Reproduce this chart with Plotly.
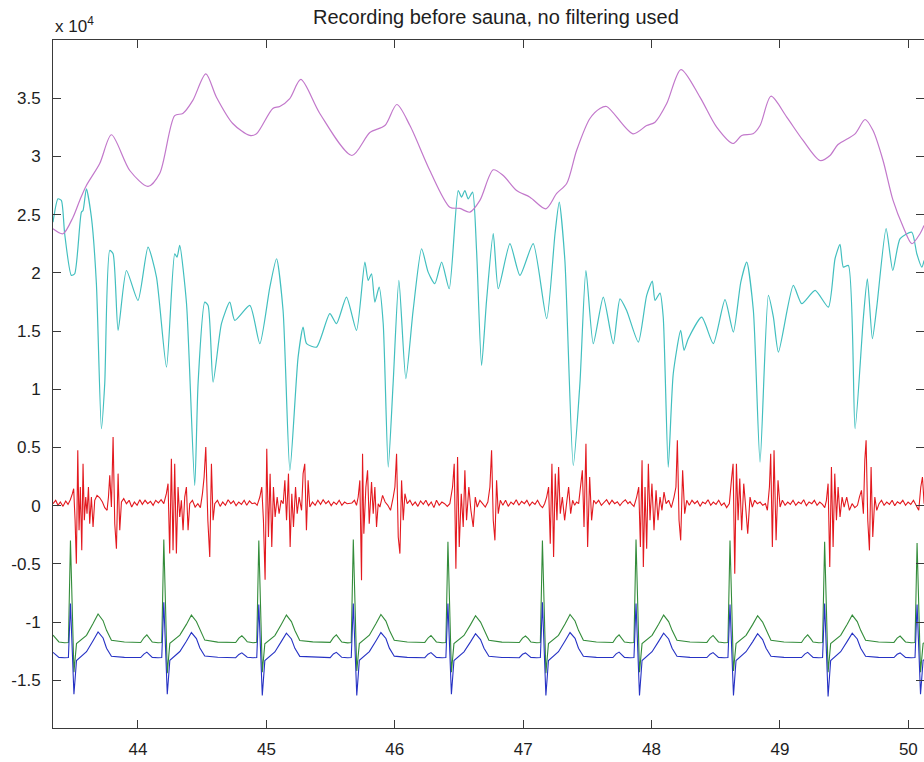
import plotly.graph_objects as go

# Time axis in seconds, amplitudes in units of 1e4 counts.

# Respiration (purple): (time, amplitude)
resp = [
    (43.338, 2.379), (43.416, 2.336), (43.494, 2.478), (43.546, 2.622), (43.598, 2.750),
    (43.702, 2.939), (43.793, 3.186), (43.936, 2.879), (44.078, 2.742), (44.169, 2.853),
    (44.286, 3.351), (44.349, 3.369), (44.427, 3.481), (44.528, 3.709), (44.611, 3.509),
    (44.738, 3.283), (44.870, 3.180), (44.923, 3.194), (45.050, 3.412), (45.104, 3.429),
    (45.182, 3.497), (45.268, 3.661), (45.416, 3.369), (45.666, 3.008), (45.806, 3.205),
    (45.923, 3.265), (46.016, 3.446), (46.118, 3.265), (46.273, 2.879), (46.429, 2.564),
    (46.507, 2.553), (46.585, 2.521), (46.663, 2.622), (46.767, 2.885), (46.845, 2.836),
    (46.949, 2.707), (47.053, 2.650), (47.177, 2.550), (47.261, 2.682), (47.339, 2.767),
    (47.416, 3.051), (47.520, 3.326), (47.598, 3.412), (47.650, 3.429), (47.855, 3.194),
    (47.962, 3.265), (48.027, 3.294), (48.118, 3.454), (48.229, 3.746), (48.377, 3.509),
    (48.507, 3.251), (48.634, 3.111), (48.702, 3.180), (48.790, 3.194), (48.845, 3.265),
    (48.930, 3.517), (49.053, 3.337), (49.180, 3.137), (49.312, 2.965), (49.390, 3.008),
    (49.452, 3.102), (49.585, 3.194), (49.663, 3.317), (49.725, 3.222), (49.803, 2.965),
    (49.881, 2.622), (49.961, 2.392), (50.027, 2.250), (50.091, 2.336), (50.122, 2.407),
]

# Pulse / pressure channel (cyan)
pulse = [
    (43.338, 2.435), (43.377, 2.636), (43.403, 2.622), (43.429, 2.336), (43.481, 1.978),
    (43.507, 1.992), (43.559, 2.521), (43.572, 2.536), (43.598, 2.722), (43.637, 2.478),
    (43.676, 1.906), (43.715, 0.661), (43.741, 1.050), (43.780, 2.192), (43.806, 2.164),
    (43.845, 1.505), (43.910, 2.020), (44.000, 1.763), (44.078, 2.221), (44.144, 1.963),
    (44.222, 1.190), (44.286, 2.164), (44.304, 2.135), (44.325, 2.235), (44.378, 1.735),
    (44.442, 0.174), (44.468, 1.050), (44.520, 1.748), (44.546, 1.720), (44.585, 1.061),
    (44.650, 1.563), (44.715, 1.748), (44.754, 1.591), (44.871, 1.720), (44.949, 1.391),
    (45.027, 1.877), (45.079, 2.121), (45.130, 1.677), (45.183, 0.303), (45.247, 1.276),
    (45.286, 1.534), (45.313, 1.391), (45.391, 1.362), (45.494, 1.649), (45.546, 1.563),
    (45.624, 1.791), (45.702, 1.505), (45.767, 2.092), (45.793, 1.935), (45.819, 1.992),
    (45.845, 1.748), (45.878, 1.877), (45.910, 1.563), (45.949, 0.331), (45.987, 1.048),
    (46.032, 1.935), (46.086, 1.091), (46.143, 1.677), (46.209, 2.207), (46.260, 2.006),
    (46.312, 1.906), (46.365, 2.092), (46.424, 1.863), (46.494, 2.707), (46.520, 2.650),
    (46.546, 2.707), (46.572, 2.636), (46.606, 2.693), (46.637, 2.192), (46.676, 1.205),
    (46.715, 1.763), (46.767, 2.336), (46.806, 1.863), (46.897, 2.250), (46.975, 1.978),
    (47.078, 2.250), (47.183, 1.606), (47.248, 2.336), (47.281, 2.607), (47.325, 2.106),
    (47.390, 0.346), (47.442, 1.048), (47.489, 2.020), (47.546, 1.391), (47.624, 1.791),
    (47.702, 1.391), (47.754, 1.777), (47.806, 1.677), (47.897, 1.405), (47.962, 1.806),
    (48.006, 1.929), (48.027, 1.763), (48.066, 1.826), (48.091, 1.619), (48.130, 0.331),
    (48.169, 1.133), (48.227, 1.505), (48.253, 1.334), (48.286, 1.434), (48.391, 1.619),
    (48.481, 1.391), (48.572, 1.769), (48.637, 1.491), (48.695, 1.920), (48.741, 2.092),
    (48.793, 1.677), (48.845, 0.374), (48.910, 1.806), (48.949, 1.619), (48.988, 1.319),
    (49.104, 1.892), (49.170, 1.735), (49.274, 1.849), (49.377, 1.705), (49.429, 2.121),
    (49.468, 2.244), (49.494, 2.049), (49.533, 2.063), (49.585, 0.661), (49.650, 1.619),
    (49.681, 1.949), (49.720, 1.434), (49.754, 1.705), (49.827, 2.379), (49.879, 2.020),
    (49.936, 2.293), (50.027, 2.349), (50.066, 2.164), (50.105, 2.049), (50.123, 2.106),
]

# Unfiltered microphone / vibration channel (red)
vib = [
    (43.338, 0.017), (43.359, 0.046), (43.377, 0.003), (43.395, 0.031), (43.416, -0.006),
    (43.437, 0.040), (43.455, 0.011), (43.473, 0.051), (43.489, 0.103), (43.499, 0.146),
    (43.510, -0.126), (43.520, -0.498), (43.531, 0.475), (43.541, -0.212), (43.551, 0.160),
    (43.562, -0.384), (43.572, 0.360), (43.582, -0.126), (43.593, 0.074), (43.603, -0.069),
    (43.614, 0.160), (43.624, -0.155), (43.637, 0.074), (43.650, -0.183), (43.663, 0.046),
    (43.681, 0.088), (43.702, 0.068), (43.723, 0.031), (43.741, -0.017), (43.759, -0.040),
    (43.770, 0.074), (43.780, 0.260), (43.793, -0.012), (43.806, 0.589), (43.819, -0.155),
    (43.832, -0.370), (43.845, 0.275), (43.858, -0.212), (43.871, 0.031), (43.889, 0.060),
    (43.910, 0.017), (43.931, 0.046), (43.951, -0.012), (43.972, 0.031), (43.993, 0.003),
    (44.014, 0.051), (44.034, 0.011), (44.055, 0.046), (44.076, 0.017), (44.097, 0.037),
    (44.118, 0.003), (44.138, 0.046), (44.159, 0.023), (44.180, 0.051), (44.201, 0.017),
    (44.221, 0.103), (44.234, 0.189), (44.247, -0.412), (44.260, 0.403), (44.273, -0.384),
    (44.286, 0.360), (44.299, -0.412), (44.312, 0.160), (44.325, -0.098), (44.338, 0.046),
    (44.351, -0.212), (44.364, 0.074), (44.377, 0.160), (44.390, -0.212), (44.403, 0.017),
    (44.424, 0.046), (44.445, -0.012), (44.466, 0.017), (44.486, -0.017), (44.502, 0.103),
    (44.515, 0.246), (44.528, 0.503), (44.544, -0.126), (44.559, -0.441), (44.572, 0.360),
    (44.585, -0.126), (44.598, 0.017), (44.619, 0.046), (44.640, -0.006), (44.660, 0.031),
    (44.681, 0.003), (44.702, 0.051), (44.723, 0.017), (44.744, 0.040), (44.764, 0.000),
    (44.785, 0.031), (44.806, 0.011), (44.827, 0.046), (44.847, 0.003), (44.868, 0.040),
    (44.889, 0.017), (44.910, 0.023), (44.928, 0.003), (44.949, 0.074), (44.964, 0.160),
    (44.977, -0.126), (44.990, -0.636), (45.003, 0.489), (45.016, -0.269), (45.029, 0.275),
    (45.042, -0.355), (45.055, 0.160), (45.068, -0.098), (45.084, 0.074), (45.099, -0.069),
    (45.115, 0.046), (45.131, 0.017), (45.144, 0.217), (45.157, -0.126), (45.172, 0.275),
    (45.185, -0.355), (45.198, 0.103), (45.211, -0.183), (45.227, 0.160), (45.240, -0.069),
    (45.255, 0.074), (45.274, -0.040), (45.286, 0.275), (45.299, 0.360), (45.312, -0.212),
    (45.325, 0.217), (45.338, -0.012), (45.359, 0.031), (45.380, 0.003), (45.401, 0.046),
    (45.422, 0.011), (45.442, 0.051), (45.463, 0.017), (45.484, 0.040), (45.505, 0.000),
    (45.525, 0.031), (45.546, 0.011), (45.567, 0.046), (45.588, 0.003), (45.609, 0.031),
    (45.629, 0.017), (45.666, 0.023), (45.686, 0.046), (45.702, 0.003), (45.715, 0.074),
    (45.728, 0.217), (45.741, -0.641), (45.749, 0.446), (45.759, -0.241), (45.775, 0.160),
    (45.788, 0.303), (45.801, -0.155), (45.819, 0.203), (45.832, -0.069), (45.845, 0.160),
    (45.858, -0.183), (45.871, 0.017), (45.884, -0.012), (45.905, 0.088), (45.925, 0.031),
    (45.946, 0.003), (45.967, -0.040), (45.988, 0.074), (46.001, 0.160), (46.014, 0.446),
    (46.027, -0.269), (46.040, -0.412), (46.053, 0.217), (46.066, -0.126), (46.079, 0.103),
    (46.097, 0.017), (46.118, 0.046), (46.138, 0.003), (46.159, 0.031), (46.180, -0.006),
    (46.201, 0.040), (46.222, 0.011), (46.242, 0.046), (46.263, 0.000), (46.284, 0.031),
    (46.305, -0.017), (46.325, 0.046), (46.346, 0.003), (46.367, 0.031), (46.388, 0.017),
    (46.409, -0.006), (46.429, 0.017), (46.450, 0.160), (46.463, 0.360), (46.476, -0.541),
    (46.489, 0.418), (46.502, -0.355), (46.518, 0.103), (46.533, -0.183), (46.546, 0.303),
    (46.559, -0.126), (46.577, 0.160), (46.593, -0.040), (46.611, -0.183), (46.627, 0.074),
    (46.642, -0.012), (46.663, 0.046), (46.684, 0.017), (46.705, -0.012), (46.725, 0.031),
    (46.741, 0.160), (46.754, 0.475), (46.767, -0.126), (46.780, -0.298), (46.793, 0.217),
    (46.806, -0.069), (46.822, 0.046), (46.842, 0.003), (46.863, 0.046), (46.884, -0.006),
    (46.905, 0.031), (46.925, 0.011), (46.946, 0.051), (46.967, 0.003), (46.988, 0.037),
    (47.009, 0.017), (47.029, 0.046), (47.050, 0.000), (47.071, 0.031), (47.092, 0.011),
    (47.112, 0.046), (47.133, 0.003), (47.151, -0.017), (47.167, 0.017), (47.183, 0.074),
    (47.198, 0.160), (47.211, -0.327), (47.224, 0.360), (47.237, -0.441), (47.250, 0.275),
    (47.263, -0.126), (47.276, 0.332), (47.289, -0.069), (47.305, 0.074), (47.323, -0.126),
    (47.341, 0.046), (47.354, 0.160), (47.370, -0.069), (47.385, 0.046), (47.401, 0.003),
    (47.416, 0.031), (47.432, 0.017), (47.448, 0.160), (47.461, 0.303), (47.474, -0.183),
    (47.489, 0.532), (47.502, -0.355), (47.518, 0.246), (47.533, -0.126), (47.549, 0.046),
    (47.567, 0.017), (47.588, 0.046), (47.609, 0.003), (47.629, 0.031), (47.650, 0.051),
    (47.671, 0.011), (47.692, 0.046), (47.713, 0.017), (47.733, 0.034), (47.754, 0.000),
    (47.775, 0.031), (47.796, 0.051), (47.816, 0.017), (47.832, 0.034), (47.842, 0.017),
    (47.863, -0.006), (47.884, 0.074), (47.900, 0.160), (47.913, -0.355), (47.926, 0.389),
    (47.936, -0.527), (47.949, 0.160), (47.962, -0.370), (47.975, 0.360), (47.988, -0.126),
    (48.003, 0.189), (48.019, -0.212), (48.035, 0.131), (48.050, -0.126), (48.066, 0.074),
    (48.081, -0.040), (48.097, 0.117), (48.113, 0.017), (48.133, 0.046), (48.154, -0.017),
    (48.175, 0.074), (48.190, 0.160), (48.201, 0.561), (48.214, -0.126), (48.227, -0.298),
    (48.242, 0.303), (48.258, -0.069), (48.274, 0.046), (48.294, 0.003), (48.315, 0.046),
    (48.336, 0.017), (48.357, 0.040), (48.378, -0.006), (48.398, 0.031), (48.419, 0.017),
    (48.440, 0.051), (48.461, 0.003), (48.481, 0.031), (48.502, 0.011), (48.523, 0.046),
    (48.544, 0.003), (48.565, 0.023), (48.585, -0.017), (48.606, 0.017), (48.622, 0.217),
    (48.635, 0.360), (48.648, -0.584), (48.661, 0.360), (48.674, -0.126), (48.687, 0.232),
    (48.702, -0.212), (48.718, 0.189), (48.733, -0.012), (48.749, -0.241), (48.767, 0.074),
    (48.785, -0.012), (48.803, 0.046), (48.824, 0.017), (48.845, 0.031), (48.866, 0.003),
    (48.887, 0.017), (48.902, -0.040), (48.918, 0.160), (48.928, 0.446), (48.941, -0.355),
    (48.954, 0.475), (48.970, -0.298), (48.985, 0.217), (49.001, -0.012), (49.019, 0.046),
    (49.040, 0.003), (49.061, 0.031), (49.081, 0.011), (49.102, 0.046), (49.123, 0.003),
    (49.144, 0.031), (49.165, 0.017), (49.185, 0.051), (49.206, 0.000), (49.227, 0.031),
    (49.248, 0.017), (49.268, 0.046), (49.289, 0.003), (49.310, 0.031), (49.331, 0.011),
    (49.349, -0.017), (49.362, 0.046), (49.375, 0.189), (49.388, -0.527), (49.401, 0.332),
    (49.414, -0.355), (49.427, 0.275), (49.440, -0.126), (49.453, 0.160), (49.468, -0.098),
    (49.484, 0.074), (49.500, -0.012), (49.520, 0.074), (49.541, -0.040), (49.562, 0.017),
    (49.583, -0.017), (49.604, 0.003), (49.619, 0.074), (49.635, 0.131), (49.650, -0.069),
    (49.661, 0.389), (49.671, 0.561), (49.684, -0.126), (49.697, -0.384), (49.710, 0.332),
    (49.723, -0.269), (49.739, 0.074), (49.754, -0.040), (49.772, 0.017), (49.791, 0.046),
    (49.811, 0.003), (49.832, 0.031), (49.853, 0.011), (49.874, 0.046), (49.894, 0.000),
    (49.915, 0.034), (49.936, 0.017), (49.957, 0.046), (49.978, 0.003), (49.998, 0.031),
    (50.019, 0.011), (50.040, 0.046), (50.061, -0.006), (50.081, -0.040), (50.097, 0.160),
    (50.110, 0.246), (50.123, 0.017),
]

# Two ECG leads sampled at the same instants: (time, lead A green, lead B blue)
ecg = [
    (43.338, -1.112, -1.260), (43.360, -1.140, -1.280), (43.384, -1.171, -1.303),
    (43.429, -1.178, -1.306),
    # beat 1
    (43.458, -1.175, -1.305), (43.474, -0.300, -0.840), (43.501, -1.430, -1.620),
    (43.521, -1.185, -1.330), (43.560, -1.150, -1.290), (43.599, -1.114, -1.255),
    (43.650, -1.013, -1.160), (43.689, -0.930, -1.085), (43.728, -0.988, -1.137),
    (43.755, -1.071, -1.225), (43.793, -1.157, -1.294), (43.894, -1.171, -1.303),
    (44.021, -1.175, -1.305), (44.046, -1.135, -1.275), (44.069, -1.110, -1.258),
    (44.091, -1.140, -1.280), (44.111, -1.171, -1.303), (44.156, -1.178, -1.306),
    # beat 2
    (44.185, -1.175, -1.305), (44.201, -0.290, -0.830), (44.228, -1.440, -1.620),
    (44.248, -1.183, -1.328), (44.287, -1.148, -1.288), (44.326, -1.112, -1.253),
    (44.377, -1.020, -1.165), (44.416, -0.940, -1.090), (44.455, -0.995, -1.142),
    (44.482, -1.068, -1.222), (44.520, -1.155, -1.292), (44.621, -1.172, -1.302),
    (44.761, -1.176, -1.306), (44.786, -1.138, -1.278), (44.809, -1.118, -1.264),
    (44.831, -1.142, -1.282), (44.851, -1.170, -1.302), (44.896, -1.178, -1.307),
    # beat 3
    (44.925, -1.174, -1.304), (44.941, -0.300, -0.850), (44.968, -1.430, -1.630),
    (44.988, -1.186, -1.331), (45.027, -1.151, -1.292), (45.066, -1.116, -1.257),
    (45.117, -1.018, -1.166), (45.156, -0.940, -1.095), (45.195, -0.996, -1.145),
    (45.222, -1.072, -1.226), (45.260, -1.158, -1.295), (45.361, -1.170, -1.302),
    (45.497, -1.174, -1.305), (45.522, -1.134, -1.274), (45.545, -1.110, -1.260),
    (45.567, -1.139, -1.281), (45.587, -1.171, -1.303), (45.632, -1.179, -1.307),
    # beat 4
    (45.661, -1.175, -1.305), (45.677, -0.290, -0.840), (45.704, -1.420, -1.630),
    (45.724, -1.184, -1.329), (45.763, -1.149, -1.289), (45.802, -1.113, -1.254),
    (45.853, -1.015, -1.162), (45.892, -0.935, -1.090), (45.931, -0.992, -1.141),
    (45.958, -1.070, -1.224), (45.996, -1.156, -1.293), (46.097, -1.171, -1.303),
    (46.234, -1.175, -1.306), (46.259, -1.137, -1.276), (46.282, -1.115, -1.262),
    (46.304, -1.141, -1.281), (46.324, -1.171, -1.303), (46.369, -1.178, -1.306),
    # beat 5
    (46.398, -1.175, -1.305), (46.414, -0.310, -0.840), (46.441, -1.430, -1.620),
    (46.461, -1.185, -1.330), (46.500, -1.150, -1.291), (46.539, -1.115, -1.256),
    (46.590, -1.022, -1.170), (46.629, -0.945, -1.100), (46.668, -1.000, -1.150),
    (46.695, -1.071, -1.225), (46.733, -1.157, -1.294), (46.834, -1.172, -1.304),
    (46.970, -1.176, -1.306), (46.995, -1.138, -1.277), (47.018, -1.120, -1.265),
    (47.040, -1.143, -1.283), (47.060, -1.171, -1.303), (47.105, -1.178, -1.306),
    # beat 6
    (47.134, -1.175, -1.305), (47.150, -0.300, -0.830), (47.177, -1.440, -1.630),
    (47.197, -1.185, -1.330), (47.236, -1.150, -1.290), (47.275, -1.114, -1.255),
    (47.326, -1.016, -1.163), (47.365, -0.935, -1.090), (47.404, -0.991, -1.140),
    (47.431, -1.071, -1.225), (47.469, -1.157, -1.294), (47.570, -1.171, -1.303),
    (47.699, -1.175, -1.305), (47.724, -1.134, -1.273), (47.747, -1.110, -1.258),
    (47.769, -1.139, -1.279), (47.789, -1.171, -1.303), (47.834, -1.178, -1.306),
    # beat 7
    (47.863, -1.175, -1.305), (47.879, -0.290, -0.840), (47.906, -1.430, -1.630),
    (47.926, -1.185, -1.330), (47.965, -1.150, -1.290), (48.004, -1.114, -1.255),
    (48.055, -1.018, -1.166), (48.094, -0.940, -1.095), (48.133, -0.996, -1.145),
    (48.160, -1.071, -1.225), (48.198, -1.157, -1.294), (48.299, -1.171, -1.303),
    (48.431, -1.175, -1.305), (48.456, -1.137, -1.276), (48.479, -1.115, -1.262),
    (48.501, -1.141, -1.281), (48.521, -1.171, -1.303), (48.566, -1.178, -1.306),
    # beat 8
    (48.595, -1.175, -1.305), (48.611, -0.300, -0.850), (48.638, -1.420, -1.630),
    (48.658, -1.185, -1.330), (48.697, -1.150, -1.290), (48.736, -1.114, -1.255),
    (48.787, -1.022, -1.170), (48.826, -0.945, -1.100), (48.865, -1.000, -1.150),
    (48.892, -1.071, -1.225), (48.930, -1.157, -1.294), (49.031, -1.171, -1.303),
    (49.168, -1.175, -1.305), (49.193, -1.135, -1.275), (49.216, -1.110, -1.260),
    (49.238, -1.140, -1.280), (49.258, -1.171, -1.303), (49.303, -1.178, -1.306),
    # beat 9
    (49.332, -1.175, -1.305), (49.348, -0.310, -0.840), (49.375, -1.430, -1.640),
    (49.395, -1.185, -1.330), (49.434, -1.150, -1.290), (49.473, -1.114, -1.255),
    (49.524, -1.018, -1.166), (49.563, -0.940, -1.095), (49.602, -0.996, -1.145),
    (49.629, -1.071, -1.225), (49.667, -1.157, -1.294), (49.768, -1.171, -1.303),
    (49.888, -1.175, -1.305), (49.913, -1.138, -1.277), (49.936, -1.120, -1.265),
    (49.958, -1.143, -1.283), (49.978, -1.171, -1.303), (50.023, -1.178, -1.306),
    # beat 10
    (50.052, -1.175, -1.305), (50.068, -0.320, -0.850), (50.095, -1.430, -1.620),
    (50.115, -1.185, -1.330), (50.154, -1.150, -1.290),
]

x_ticks = [44, 45, 46, 47, 48, 49, 50]
y_ticks = [-1.5, -1, -0.5, 0, 0.5, 1, 1.5, 2, 2.5, 3, 3.5]
y_labels = ["-1.5", "-1", "-0.5", "0", "0.5", "1", "1.5", "2", "2.5", "3", "3.5"]
title_text = "Recording before sauna, no filtering used"
scale_text = "x 10<sup>4</sup>"

FONT = "Liberation Sans, Arial, Helvetica, sans-serif"
AXIS = "#3a3a3a"


def cols(rows, i):
    return [r[i] for r in rows]


fig = go.Figure()
fig.add_trace(go.Scatter(x=cols(ecg, 0), y=cols(ecg, 1), mode="lines",
                         line=dict(color="#338c3a", width=1.1)))
fig.add_trace(go.Scatter(x=cols(ecg, 0), y=cols(ecg, 2), mode="lines",
                         line=dict(color="#2632c4", width=1.1)))
fig.add_trace(go.Scatter(x=cols(vib, 0), y=cols(vib, 1), mode="lines",
                         line=dict(color="#e3191f", width=1.1)))
fig.add_trace(go.Scatter(x=cols(pulse, 0), y=cols(pulse, 1), mode="lines",
                         line=dict(color="#42bfbf", width=1.2, shape="spline", smoothing=0.6)))
fig.add_trace(go.Scatter(x=cols(resp, 0), y=cols(resp, 1), mode="lines",
                         line=dict(color="#c278cb", width=1.2, shape="spline", smoothing=0.8)))

fig.update_layout(
    width=924, height=762,
    margin=dict(l=53, r=0, t=40, b=34),
    paper_bgcolor="white", plot_bgcolor="white",
    showlegend=False,
    font=dict(family=FONT, size=17, color="#1e1e1e"),
    xaxis=dict(range=[43.338, 50.122], tickvals=x_ticks,
               ticks="inside", ticklen=8, tickcolor=AXIS, tickwidth=1,
               showline=True, linecolor=AXIS, linewidth=1, mirror="ticks",
               showgrid=False, zeroline=False, ticklabelstandoff=6),
    yaxis=dict(range=[-1.91, 4.0], tickvals=y_ticks, ticktext=y_labels,
               ticks="inside", ticklen=8, tickcolor=AXIS, tickwidth=1,
               showline=True, linecolor=AXIS, linewidth=1, mirror="ticks",
               showgrid=False, zeroline=False, ticklabelstandoff=8),
    annotations=[
        dict(text=title_text, xref="paper", yref="paper",
             x=0.5086, y=1.0334, xanchor="center", yanchor="middle",
             showarrow=False, font=dict(family=FONT, size=20, color="#1e1e1e")),
        dict(text=scale_text, xref="paper", yref="paper",
             x=0.0, y=1.0225, xanchor="left", yanchor="middle",
             showarrow=False, font=dict(family=FONT, size=17, color="#1e1e1e")),
    ],
)

fig.write_html("out.html")
